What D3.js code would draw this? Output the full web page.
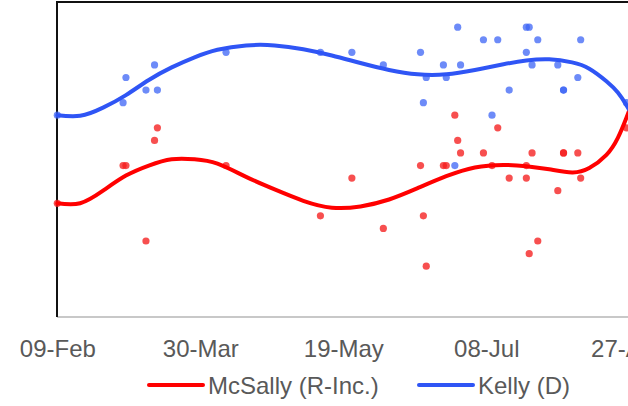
<!DOCTYPE html>
<html>
<head>
<meta charset="utf-8">
<script src="https://cdn.jsdelivr.net/npm/d3@7"></script>
<style>
  body { margin: 0; background: #fff; }
  text { font-family: "Liberation Sans", Arial, sans-serif; }
</style>
</head>
<body>
<svg class="chart"></svg>
<script>
// polls (each poll gives one Kelly and one McSally point)
const pollDates = ["2020-02-09", "2020-03-03", "2020-03-04", "2020-03-11", "2020-03-14", "2020-03-15",
  "2020-04-08", "2020-05-11", "2020-05-22", "2020-06-02", "2020-06-15", "2020-06-16", "2020-06-17",
  "2020-06-23", "2020-06-24", "2020-06-27", "2020-06-28", "2020-06-29", "2020-07-07", "2020-07-10",
  "2020-07-12", "2020-07-16", "2020-07-22", "2020-07-22", "2020-07-23", "2020-07-24", "2020-07-26",
  "2020-08-02", "2020-08-04", "2020-08-04", "2020-08-09", "2020-08-10", "2020-08-26"];
const kellyVals = [46, 47, 49, 48, 50, 48, 51, 51, 51, 50, 51, 47, 49, 50, 49, 42, 53, 50, 52, 46,
  52, 48, 53, 51, 53, 50, 52, 50, 48, 48, 49, 52, 47];
const mcsallyVals = [39, 42, 42, 36, 44, 45, 42, 38, 41, 37, 42, 38, 34, 42, 42, 46, 44, 43, 43, 42,
  45, 41, 41, 42, 35, 43, 36, 40, 43, 43, 43, 41, 45];

// smoothed trend lines
const trendDates = ["2020-02-09", "2020-02-17", "2020-02-25", "2020-03-04", "2020-03-12", "2020-03-20",
  "2020-03-28", "2020-04-05", "2020-04-15", "2020-04-25", "2020-05-05", "2020-05-15", "2020-05-25",
  "2020-06-04", "2020-06-14", "2020-06-24", "2020-07-04", "2020-07-14", "2020-07-22", "2020-07-30",
  "2020-08-07", "2020-08-13", "2020-08-19", "2020-08-23", "2020-08-26", "2020-08-28"];
const kellyTrend = [46.0, 45.95, 46.6, 47.6, 48.8, 49.8, 50.6, 51.2, 51.55, 51.55, 51.25, 50.75, 50.15,
  49.6, 49.25, 49.25, 49.6, 50.05, 50.35, 50.45, 50.2, 49.7, 48.7, 47.8, 46.8, 46.0];
const mcsallyTrend = [39.0, 39.0, 40.0, 41.2, 42.0, 42.5, 42.5, 42.15, 41.1, 40.1, 39.2, 38.65, 38.75,
  39.3, 40.2, 41.15, 41.85, 42.05, 41.95, 41.7, 41.45, 41.8, 42.85, 44.2, 45.8, 47.0];

const tickDates = ["2020-02-09", "2020-03-30", "2020-05-19", "2020-07-08", "2020-08-27"];

const series = [
  {name: "McSally (R-Inc.)", vals: mcsallyVals, trend: mcsallyTrend, line: "#ff0000", dot: "rgba(245,30,30,0.78)"},
  {name: "Kelly (D)", vals: kellyVals, trend: kellyTrend, line: "#2f55f5", dot: "rgba(60,100,245,0.75)"}
];

const
  width = 628,
  height = 406,
  plot = {left: 57, right: 700, top: 2, bottom: 317};

const parse = d3.timeParse("%Y-%m-%d");

const xScale = d3.scaleTime()
  .domain([parse("2020-02-09"), parse("2020-08-27")])
  .range([57.3, 629.3]);

const yScale = d3.scaleLinear()
  .domain([30, 55])
  .range([316.5, 2]);

const svg = d3.select(".chart")
  .attr("width", width)
  .attr("height", height);

// frame
svg.append("line")
  .attr("x1", plot.left).attr("x2", plot.right)
  .attr("y1", plot.bottom).attr("y2", plot.bottom)
  .attr("stroke", "#c8c8c8").attr("stroke-width", 2);
svg.append("line")
  .attr("x1", plot.left).attr("x2", plot.right)
  .attr("y1", plot.top).attr("y2", plot.top)
  .attr("stroke", "#111").attr("stroke-width", 2);
svg.append("line")
  .attr("x1", plot.left).attr("x2", plot.left)
  .attr("y1", plot.top - 1).attr("y2", plot.bottom)
  .attr("stroke", "#111").attr("stroke-width", 2);

// x axis labels
const xAxis = d3.axisBottom(xScale)
  .tickValues(tickDates.map(parse))
  .tickFormat(d3.timeFormat("%d-%b"))
  .tickSize(0);

const gx = svg.append("g")
  .attr("transform", `translate(0, ${plot.bottom})`)
  .call(xAxis);
gx.select(".domain").remove();
gx.selectAll("text")
  .attr("y", 40)
  .attr("dy", null)
  .attr("fill", "#595959")
  .style("font-size", "24px")
  .style("font-family", "'Liberation Sans', Arial, sans-serif");

// dots
series.slice().reverse().forEach(s => {
  svg.append("g")
    .selectAll("circle")
    .data(pollDates.map((d, i) => ({date: parse(d), v: s.vals[i]})))
    .enter()
    .append("circle")
      .attr("cx", d => xScale(d.date))
      .attr("cy", d => yScale(d.v))
      .attr("r", 3.6)
      .attr("fill", s.dot);
});

// trend lines
const line = d3.line()
  .x(d => xScale(d.date))
  .y(d => yScale(d.v))
  .curve(d3.curveNatural);

series.forEach(s => {
  svg.append("path")
    .datum(trendDates.map((d, i) => ({date: parse(d), v: s.trend[i]})))
    .attr("d", line)
    .attr("fill", "none")
    .attr("stroke", s.line)
    .attr("stroke-width", 4)
    .attr("stroke-linecap", "round");
});

// legend
const legendX = [149, 419];
const legend = svg.append("g");
series.forEach((s, i) => {
  legend.append("line")
    .attr("x1", legendX[i]).attr("x2", legendX[i] + 54)
    .attr("y1", 385).attr("y2", 385)
    .attr("stroke", s.line)
    .attr("stroke-width", 4)
    .attr("stroke-linecap", "round");
  legend.append("text")
    .attr("x", legendX[i] + 59)
    .attr("y", 394)
    .attr("fill", "#595959")
    .style("font-size", "24px")
    .text(s.name);
});
</script>
</body>
</html>
